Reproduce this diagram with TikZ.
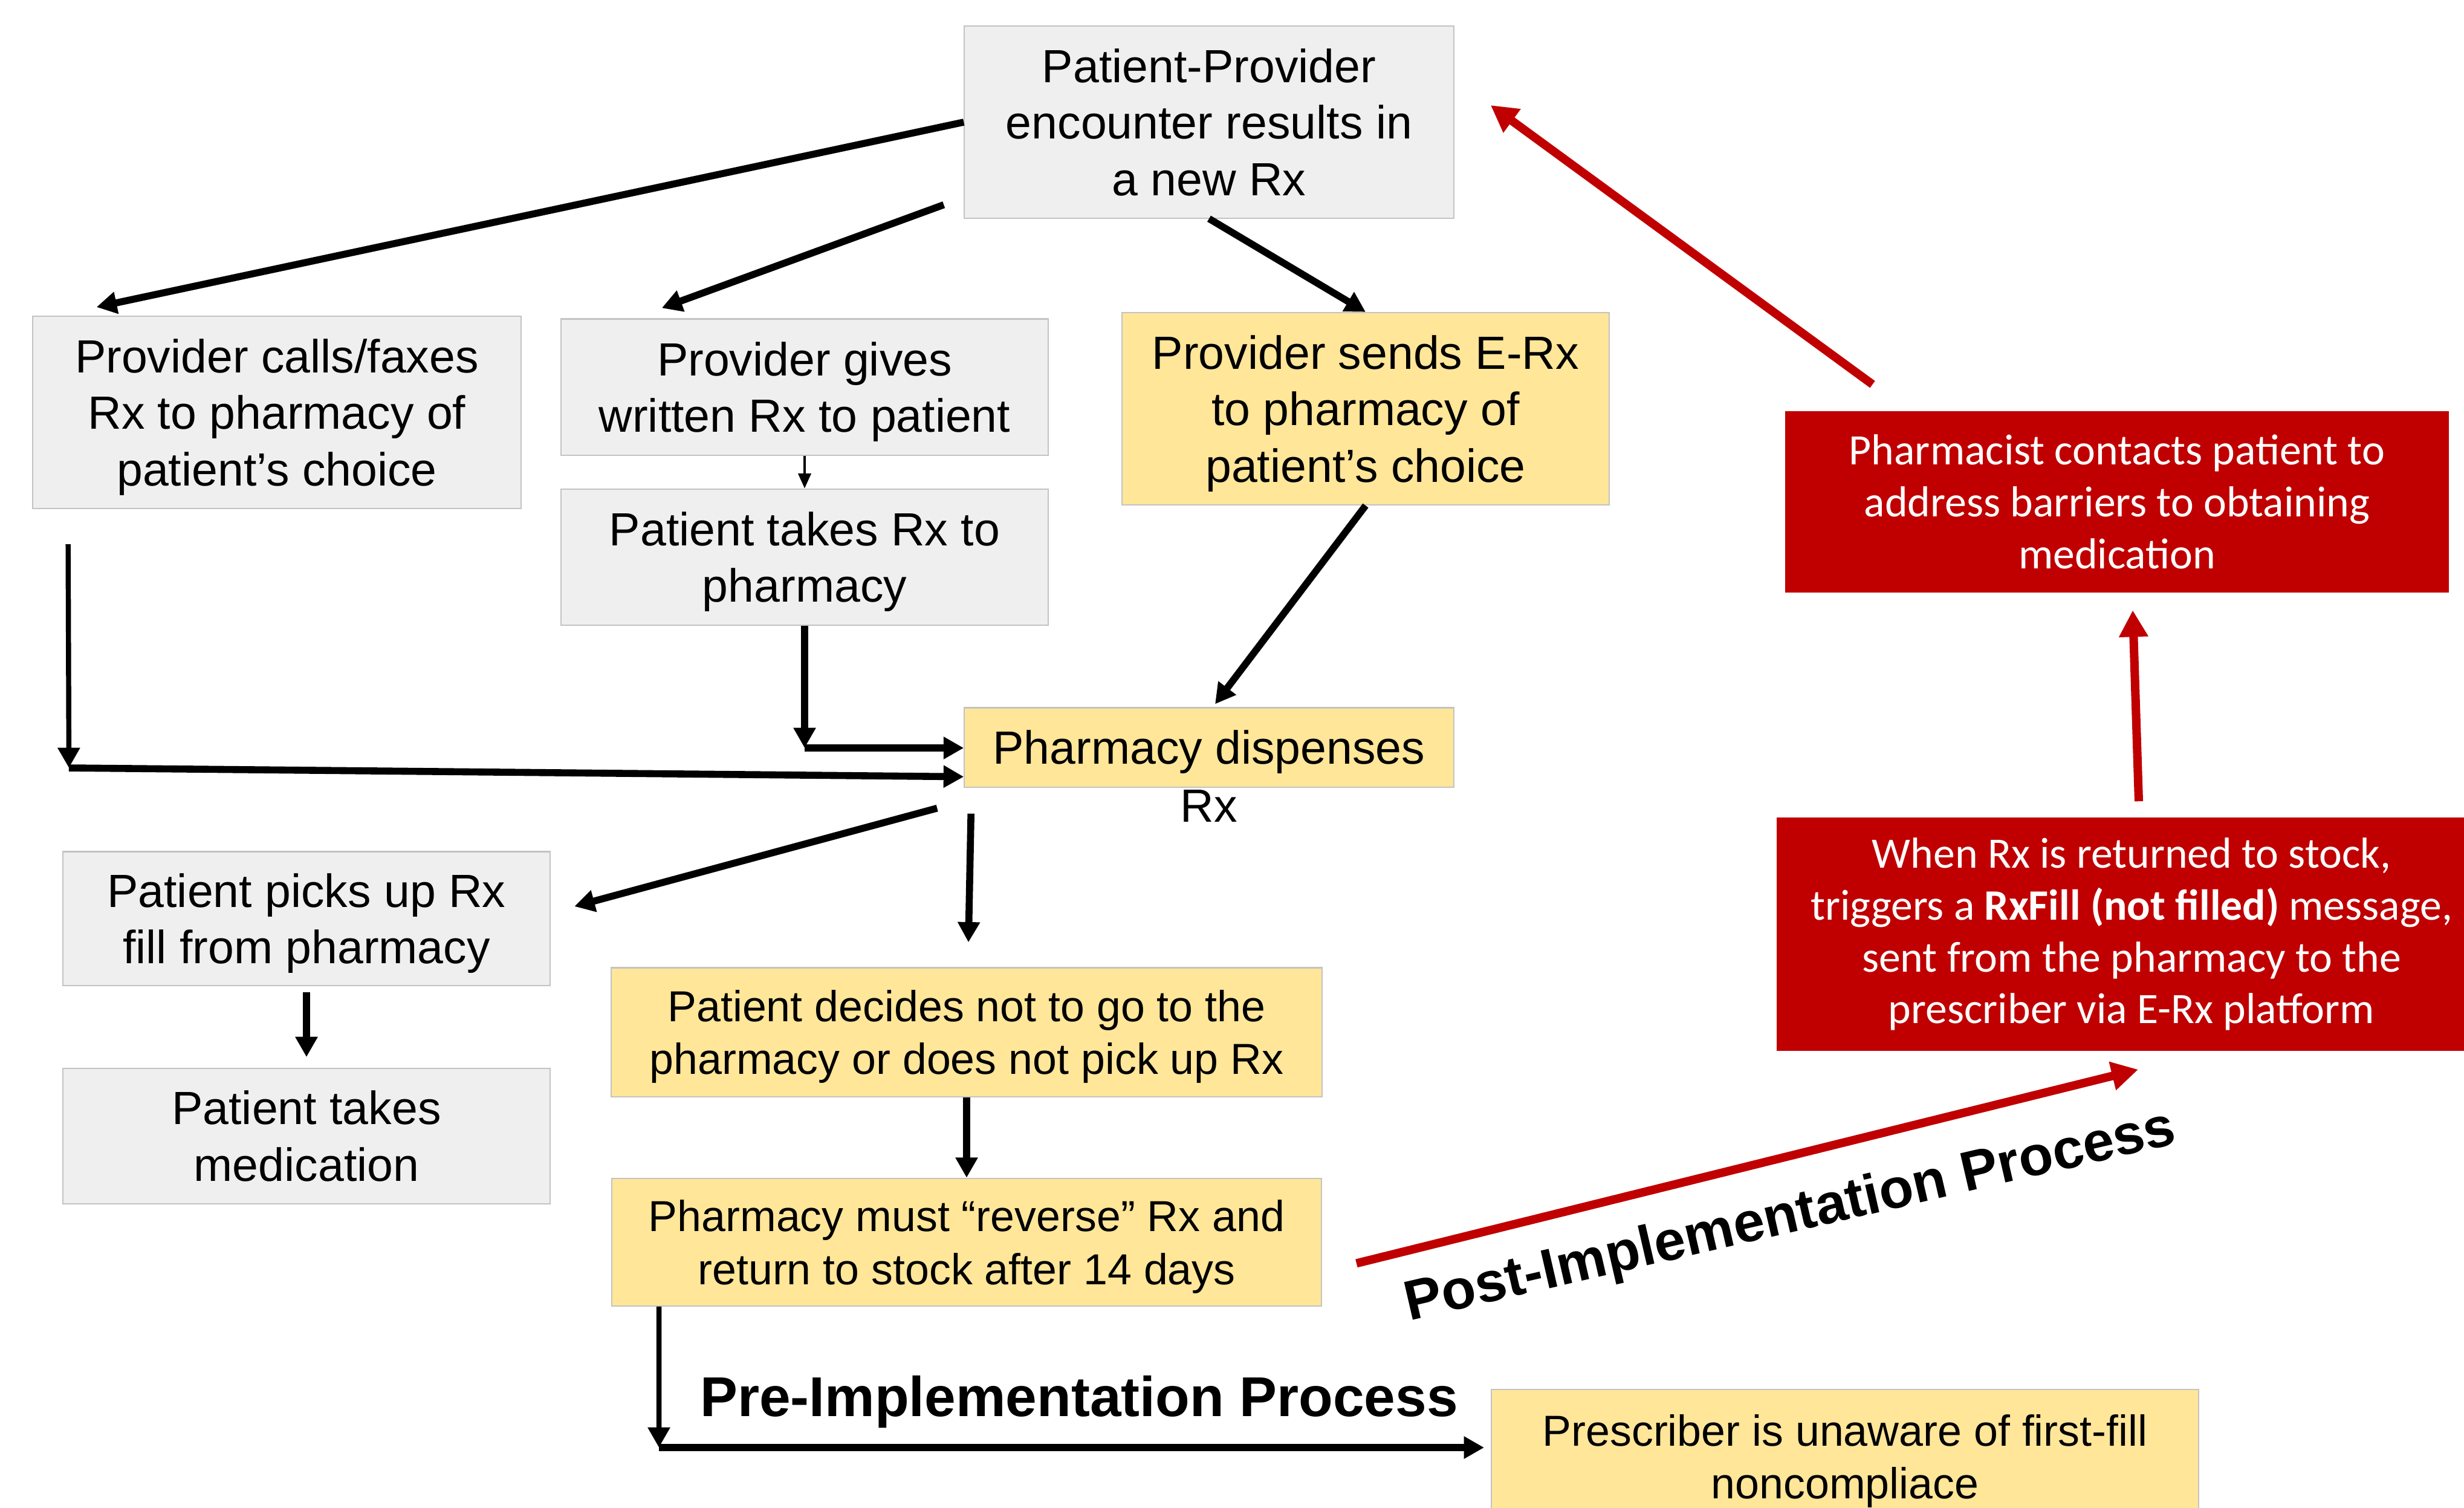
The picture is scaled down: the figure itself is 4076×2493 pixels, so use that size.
\documentclass[tikz,border=0pt]{standalone}
\usepackage{fontspec}
\setmainfont{Liberation Sans}
\newfontfamily\calibri{Carlito}
\usetikzlibrary{arrows.meta, positioning}

\definecolor{boxgray}{RGB}{239,239,239}
\definecolor{boxline}{RGB}{195,195,195}
\definecolor{boxyellow}{RGB}{255,230,153}
\definecolor{darkred}{RGB}{192,0,0}

\newcommand\boxfont{\fontsize{21.9}{26.6}\selectfont}
\newcommand\smallboxfont{\fontsize{20.4}{25}\selectfont}
\newcommand\redfont{\calibri\fontsize{20.4}{24.4}\selectfont}
\newcommand\headfont{\fontsize{26.4}{31}\selectfont\bfseries}

\tikzset{
  box/.style={draw=boxline, line width=0.6pt, inner sep=0pt, align=center, font=\boxfont, text depth=0pt},
  graybox/.style={box, fill=boxgray},
  yellowbox/.style={box, fill=boxyellow},
  redbox/.style={fill=darkred, text=white, inner sep=0pt, align=center, font=\redfont},
  flow/.style={-{Triangle[length=9.5pt,width=10pt]}, line width=3.3pt},
  midflow/.style={-{Triangle[length=9.5pt,width=10pt]}, line width=2.4pt},
  thinflow/.style={-{Triangle[length=7pt,width=6pt]}, line width=1pt},
  redflow/.style={-{Triangle[length=12.5pt,width=13pt]}, line width=4pt, draw=darkred}
}

\begin{document}
\begin{tikzpicture}[x=0.01cm, y=-0.01cm]
  \useasboundingbox (0,0) rectangle (4076,2493);
  \clip (0,0) rectangle (4076,2493);

  \node[graybox, minimum width=8.09cm, minimum height=3.17cm] (enc) at (2000,202) {Patient-Provider\\encounter results in\\a new Rx};
  \node[graybox, minimum width=8.08cm, minimum height=3.18cm] (calls) at (458,682) {Provider calls/faxes\\Rx to pharmacy of\\patient’s choice};
  \node[graybox, minimum width=8.06cm, minimum height=2.25cm] (gives) at (1331,640) {Provider gives\\written Rx to patient};
  \node[graybox, minimum width=8.06cm, minimum height=2.25cm, below=0.54cm of gives] (takes) {Patient takes Rx to\\pharmacy};
  \node[yellowbox, minimum width=8.06cm, minimum height=3.18cm] (erx) at (2259,676) {Provider sends E-Rx\\to pharmacy of\\patient’s choice};
  \node[yellowbox, minimum width=8.09cm, minimum height=1.31cm,
        label={[font=\boxfont, inner sep=0pt, label distance=1pt]below:Rx}] (disp) at (2000,1236) {Pharmacy dispenses};
  \node[graybox, minimum width=8.06cm, minimum height=2.21cm] (pickup) at (507,1519) {Patient picks up Rx\\fill from pharmacy};
  \node[graybox, minimum width=8.06cm, minimum height=2.24cm, below=1.35cm of pickup] (med) {Patient takes\\medication};
  \node[yellowbox, font=\smallboxfont, minimum width=11.75cm, minimum height=2.13cm] (decide) at (1599,1707) {Patient decides not to go to the\\pharmacy or does not pick up Rx};
  \node[yellowbox, font=\smallboxfont, minimum width=11.73cm, minimum height=2.11cm, below=1.33cm of decide] (reverse) {Pharmacy must “reverse” Rx and\\return to stock after 14 days};
  \node[yellowbox, font=\smallboxfont, minimum width=11.70cm, minimum height=2.22cm] (unaware) at (3052,2409) {Prescriber is unaware of first-fill\\noncompliace};
  \node[redbox, minimum width=10.97cm, minimum height=2.99cm] (contact) at (3502,830) {Pharmacist contacts patient to\\address barriers to obtaining\\medication};
  \node[redbox, minimum width=11.74cm, minimum height=3.86cm] (stock) at (3526,1545) {When Rx is returned to stock,\\triggers a \textbf{RxFill (not filled)} message,\\sent from the pharmacy to the\\prescriber via E-Rx platform};

  \node[font=\headfont] (pre) at (1785,2318) {Pre-Implementation Process};
  \node[font=\headfont, rotate=13] (post) at (2962,2014) {Post-Implementation Process};

  \coordinate (callsdown) at (114,1270);
  \coordinate (takesdown) at (1331,1237);
  \coordinate (revdown) at (1090,2394);
  \coordinate (revend) at (2455,2394);

  \draw[flow] (enc.west) -- ([shift={(107,-14)}]calls.north west);
  \draw[flow] ([shift={(-33,-23)}]enc.south west) -- ([shift={(168,-17)}]gives.north west);
  \draw[flow] (enc.south) -- (erx.north);
  \draw[thinflow] (gives.south) -- (takes.north);
  \draw[midflow] ([shift={(60,58)}]calls.south west) -- (callsdown);
  \draw[flow] (callsdown) -- ([shift={(0,-18)}]disp.south west);
  \draw[flow] (takes.south) -- (takesdown);
  \draw[flow] (takesdown) -- (takesdown -| disp.west);
  \draw[flow] (erx.south) -- ([shift={(10,-5)}]disp.north);
  \draw[flow] ([shift={(-44,34)}]disp.south west) -- ([shift={(39,-20)}]pickup.east);
  \draw[flow] ([shift={(12,43)}]disp.south west) -- ([shift={(3,-41)}]decide.north);
  \draw[flow, shorten <=3pt, shorten >=5pt] (pickup.south) -- (med.north);
  \draw[flow] (decide.south) -- (reverse.north);
  \draw[midflow] ([shift={(79,0)}]reverse.south west) -- (revdown);
  \draw[flow] (revdown) -- (revend);

  \draw[redflow] ([shift={(57,35)}]reverse.east) -- ([shift={(11,30)}]stock.south);
  \draw[redflow] ([shift={(12,-26)}]stock.north) -- ([shift={(26,29)}]contact.south);
  \draw[redflow] ([shift={(145,-44)}]contact.north west) -- ([shift={(60,-28)}]enc.east);
\end{tikzpicture}
\end{document}
